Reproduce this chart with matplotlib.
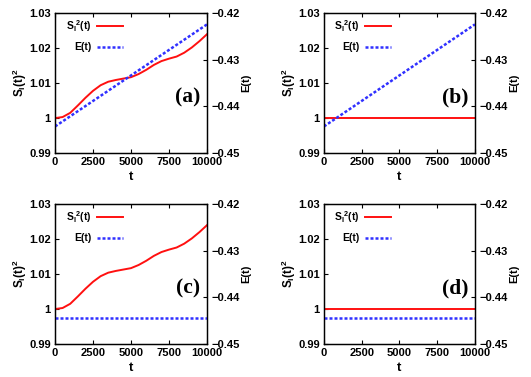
import matplotlib
matplotlib.use('Agg')
import matplotlib.pyplot as plt

# S_l(t)^2 (a) and (c)
t_s = [0, 500, 1000, 1500, 2000, 2500, 3000, 3500, 4000, 4500, 5000,
       5500, 6000, 6500, 7000, 7500, 8000, 8500, 9000, 9500, 10000]
s_grow = [1.0000, 1.0003, 1.0015, 1.0036, 1.0058, 1.0078, 1.0094, 1.0104,
          1.0109, 1.0113, 1.0117, 1.0126, 1.0138, 1.0152, 1.0163, 1.0170,
          1.0176, 1.0187, 1.0202, 1.0220, 1.0240]
s_flat = [1.0] * len(t_s)

# E(t)
t_e = [0, 10000]
e_grow = [-0.4443, -0.4224]
e_flat = [-0.4444, -0.4444]

panels = [('(a)', s_grow, e_grow), ('(b)', s_flat, e_grow),
          ('(c)', s_grow, e_flat), ('(d)', s_flat, e_flat)]

plt.rcParams['font.family'] = 'Liberation Sans'
plt.rcParams['font.weight'] = 'bold'
plt.rcParams['axes.labelweight'] = 'bold'
plt.rcParams['mathtext.fontset'] = 'custom'
plt.rcParams['mathtext.rm'] = 'Liberation Sans:bold'
plt.rcParams['mathtext.it'] = 'Liberation Sans:bold'
plt.rcParams['mathtext.bf'] = 'Liberation Sans:bold'
plt.rcParams['mathtext.default'] = 'rm'

fig = plt.figure(figsize=(5.31, 3.77), dpi=100)

# axes boxes in figure fractions
boxes = [(0.1036, 0.594, 0.2863, 0.371), (0.610, 0.594, 0.2844, 0.371),
         (0.1036, 0.0875, 0.2863, 0.371), (0.610, 0.0875, 0.2844, 0.371)]

red = '#ff1010'
blue = '#3030ff'

for (tag, s, e), box in zip(panels, boxes):
    ax = fig.add_axes(box)
    ax2 = ax.twinx()
    l1, = ax.plot(t_s, s, color=red, lw=1.4, label=r'S$_l{}^2$(t)')
    l2, = ax2.plot(t_e, e, color=blue, lw=1.8, linestyle=(0, (1.2, 0.8)),
                   label='E(t)')
    ax.set_xlim(0, 10000)
    ax.set_ylim(0.99, 1.03)
    ax2.set_ylim(-0.45, -0.42)
    ax.set_xticks([0, 2500, 5000, 7500, 10000])
    ax.set_yticks([0.99, 1.0, 1.01, 1.02, 1.03])
    ax.set_yticklabels(['0.99', '1', '1.01', '1.02', '1.03'])
    ax2.set_yticks([-0.45, -0.44, -0.43, -0.42])
    ax.tick_params(direction='in', length=3, width=0.8, labelsize=8,
                   top=True, pad=3)
    ax2.tick_params(direction='in', length=3, width=0.8, labelsize=8, pad=3)
    for a in (ax, ax2):
        for sp in a.spines.values():
            sp.set_linewidth(0.9)
    ax.set_xlabel('t', fontsize=9.5, labelpad=3)
    ax.set_ylabel(r'S$_l$(t)$^2$', fontsize=8.5, labelpad=0)
    ax2.set_ylabel('E(t)', fontsize=8, labelpad=1)
    ax2.legend([l1, l2], [l1.get_label(), l2.get_label()], loc='upper right',
               bbox_to_anchor=(0.445, 0.965), frameon=False, markerfirst=False,
               fontsize=7.5, handlelength=2.5, labelspacing=0.8,
               handletextpad=0.5, borderpad=0, borderaxespad=0)
    ax2.text(0.955, 0.40, tag, transform=ax.transAxes, ha='right', va='center',
             fontsize=15.5, fontweight='bold', family='Liberation Serif')

fig.savefig('out.png', dpi=100)
